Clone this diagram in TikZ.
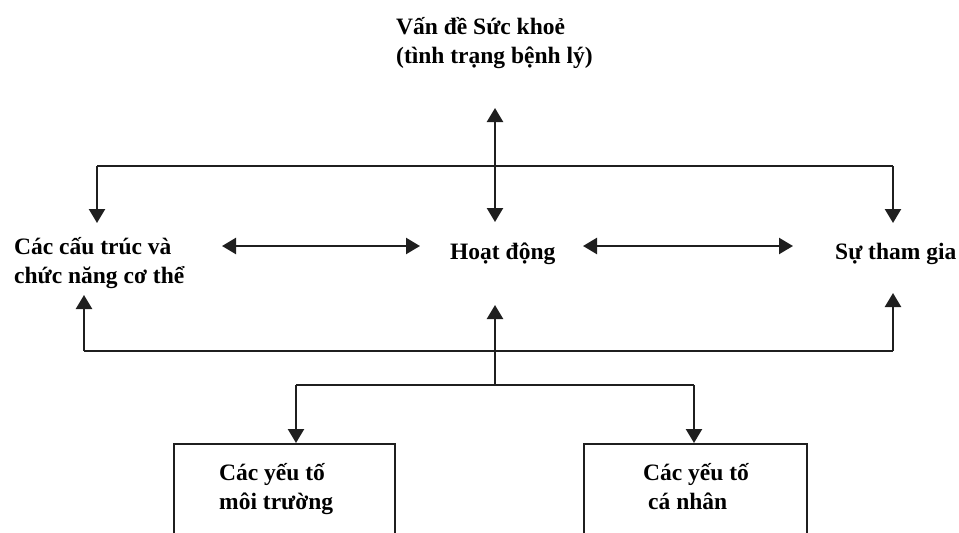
\documentclass[tikz,border=0pt]{standalone}
\usepackage{fontspec}
\setmainfont{Liberation Serif}
\usetikzlibrary{arrows.meta}
\begin{document}
\begin{tikzpicture}[x=1pt,y=-1pt,
  lbl/.style={font=\bfseries\fontsize{23.5}{29.5}\selectfont, inner sep=0pt, align=left, anchor=base west},
  wire/.style={line width=2.3pt, draw=black!88},
  tip/.style={wire, -{Triangle[length=14pt,width=16pt]}},
  dtip/.style={wire, {Triangle[length=14pt,width=16pt]}-{Triangle[length=14pt,width=16pt]}},
  factor/.style={draw=black!88, line width=2.3pt, anchor=north west, minimum height=140pt, inner sep=0pt}]
\useasboundingbox (0,0) rectangle (959,533);
\clip (0,0) rectangle (959,533);

% labels (base anchor of a two-line label sits on its last line)
\node[lbl] (health) at (396,63.5) {Vấn đề Sức khoẻ\\(tình trạng bệnh lý)};
\node[lbl] (body) at (14,283.5) {Các cấu trúc và\\chức năng cơ thể};
\node[lbl] (act) at (450,259) {Hoạt động};
\node[lbl] (part) at (835,259) {Sự tham gia};

% factor boxes (bottoms run past the page edge)
\node[factor, minimum width=221pt] (envbox) at (173,443) {};
\node[factor, minimum width=223pt] (persbox) at (583,443) {};
\node[lbl] (env) at (219,509.5) {Các yếu tố\\môi trường};
\node[lbl] (pers) at (643,509.5) {Các yếu tố\\\hspace*{5pt}cá nhân};

% arrow ends and junctions
\coordinate (hUp) at (495,108);
\coordinate (hDown) at (495,222);
\coordinate (topL) at (97,166);
\coordinate (topR) at (893,166);
\coordinate (bodyIn) at (97,223);
\coordinate (partIn) at (893,223);
\coordinate (b1) at (222,246);
\coordinate (b2) at (420,246);
\coordinate (p1) at (583,246);
\coordinate (p2) at (793,246);
\coordinate (botL) at (84,351);
\coordinate (botR) at (893,351);
\coordinate (bodyUp) at (84,295);
\coordinate (partUp) at (893,293);
\coordinate (actUp) at (495,305);
\coordinate (fork) at (495,385);
\coordinate (forkL) at (296,385);
\coordinate (forkR) at (694,385);

% health condition link
\draw[dtip] (hUp) -- (hDown);
\draw[wire] (topL) -- (topR);
\draw[tip] (topL) -- (bodyIn);
\draw[tip] (topR) -- (partIn);

% links between the three components
\draw[dtip] (b1) -- (b2);
\draw[dtip] (p1) -- (p2);

% contextual factors
\draw[wire] (botL) -- (botR);
\draw[tip] (botL) -- (bodyUp);
\draw[tip] (botR) -- (partUp);
\draw[tip] (fork) -- (actUp);
\draw[wire] (forkL) -- (forkR);
\draw[tip] (forkL) -- (envbox.north west -| forkL);
\draw[tip] (forkR) -- (persbox.north west -| forkR);
\end{tikzpicture}
\end{document}
